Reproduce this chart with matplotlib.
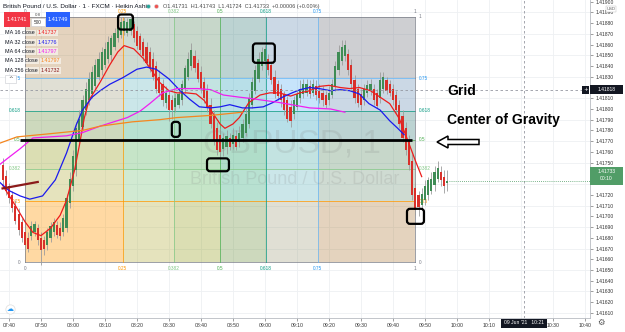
import numpy as np
import matplotlib
matplotlib.use("Agg")
import matplotlib.pyplot as plt
from matplotlib.patches import Rectangle, FancyBboxPatch, FancyArrow

# one Heikin Ashi bar per minute, time given as minutes after 08:00
bar_min = list(range(-22, 118))

ha_open = [
    1.41748, 1.41738, 1.41728, 1.41720, 1.41710, 1.41702, 1.41695, 1.41685, 1.41680, 1.41682,
    1.41685, 1.41689, 1.41680, 1.41678, 1.41673, 1.41680, 1.41685, 1.41692, 1.41689, 1.41685,
    1.41689, 1.41712, 1.41728, 1.41743, 1.41771, 1.41783, 1.41799, 1.41808, 1.41814, 1.41821,
    1.41830, 1.41836, 1.41841, 1.41847, 1.41850, 1.41858, 1.41866, 1.41869, 1.41873, 1.41871,
    1.41873, 1.41879, 1.41873, 1.41868, 1.41862, 1.41858, 1.41853, 1.41847, 1.41840, 1.41830,
    1.41823, 1.41806, 1.41813, 1.41808, 1.41802, 1.41804, 1.41808, 1.41819, 1.41830, 1.41840,
    1.41849, 1.41843, 1.41834, 1.41825, 1.41817, 1.41804, 1.41793, 1.41782, 1.41776, 1.41763,
    1.41765, 1.41773, 1.41767, 1.41775, 1.41769, 1.41773, 1.41778, 1.41786, 1.41804, 1.41817,
    1.41828, 1.41840, 1.41845, 1.41847, 1.41841, 1.41830, 1.41823, 1.41819, 1.41814, 1.41808,
    1.41802, 1.41795, 1.41802, 1.41810, 1.41814, 1.41815, 1.41821, 1.41815, 1.41821, 1.41817,
    1.41815, 1.41813, 1.41808, 1.41813, 1.41821, 1.41836, 1.41845, 1.41849, 1.41851, 1.41841,
    1.41827, 1.41819, 1.41814, 1.41808, 1.41815, 1.41817, 1.41819, 1.41815, 1.41810, 1.41819,
    1.41827, 1.41823, 1.41819, 1.41813, 1.41804, 1.41793, 1.41782, 1.41771, 1.41752, 1.41726,
    1.41720, 1.41711, 1.41715, 1.41720, 1.41724, 1.41729, 1.41735, 1.41741, 1.41737, 1.41731,
]
ha_close = [
    1.41734, 1.41724, 1.41717, 1.41708, 1.41696, 1.41687, 1.41680, 1.41673, 1.41670, 1.41691,
    1.41693, 1.41678, 1.41669, 1.41670, 1.41685, 1.41691, 1.41695, 1.41683, 1.41682, 1.41698,
    1.41717, 1.41735, 1.41756, 1.41782, 1.41791, 1.41808, 1.41819, 1.41828, 1.41834, 1.41841,
    1.41847, 1.41853, 1.41856, 1.41862, 1.41866, 1.41871, 1.41877, 1.41881, 1.41882, 1.41881,
    1.41884, 1.41866, 1.41859, 1.41855, 1.41849, 1.41843, 1.41838, 1.41830, 1.41819, 1.41815,
    1.41808, 1.41815, 1.41799, 1.41799, 1.41810, 1.41814, 1.41823, 1.41838, 1.41847, 1.41855,
    1.41838, 1.41828, 1.41819, 1.41810, 1.41801, 1.41786, 1.41771, 1.41762, 1.41760, 1.41773,
    1.41775, 1.41765, 1.41776, 1.41765, 1.41778, 1.41786, 1.41795, 1.41810, 1.41825, 1.41836,
    1.41847, 1.41853, 1.41856, 1.41836, 1.41827, 1.41814, 1.41812, 1.41808, 1.41799, 1.41791,
    1.41789, 1.41808, 1.41814, 1.41819, 1.41823, 1.41823, 1.41814, 1.41823, 1.41813, 1.41810,
    1.41808, 1.41804, 1.41815, 1.41823, 1.41840, 1.41853, 1.41858, 1.41860, 1.41836, 1.41823,
    1.41810, 1.41806, 1.41804, 1.41819, 1.41822, 1.41823, 1.41808, 1.41803, 1.41827, 1.41830,
    1.41817, 1.41815, 1.41808, 1.41799, 1.41786, 1.41773, 1.41762, 1.41748, 1.41720, 1.41706,
    1.41709, 1.41721, 1.41728, 1.41734, 1.41735, 1.41741, 1.41745, 1.41734, 1.41728, 1.41733,
]
ha_high = [
    1.41754, 1.41743, 1.41731, 1.41724, 1.41715, 1.41708, 1.41698, 1.41691, 1.41685, 1.41696,
    1.41696, 1.41693, 1.41685, 1.41682, 1.41689, 1.41695, 1.41698, 1.41696, 1.41695, 1.41702,
    1.41721, 1.41741, 1.41762, 1.41788, 1.41799, 1.41813, 1.41825, 1.41834, 1.41840, 1.41847,
    1.41853, 1.41858, 1.41862, 1.41868, 1.41869, 1.41875, 1.41882, 1.41886, 1.41886, 1.41885,
    1.41888, 1.41882, 1.41877, 1.41871, 1.41866, 1.41862, 1.41858, 1.41853, 1.41845, 1.41836,
    1.41828, 1.41821, 1.41817, 1.41813, 1.41815, 1.41819, 1.41827, 1.41841, 1.41853, 1.41861,
    1.41855, 1.41847, 1.41840, 1.41830, 1.41823, 1.41810, 1.41799, 1.41788, 1.41782, 1.41778,
    1.41780, 1.41778, 1.41782, 1.41780, 1.41784, 1.41791, 1.41801, 1.41815, 1.41830, 1.41841,
    1.41853, 1.41858, 1.41860, 1.41851, 1.41845, 1.41836, 1.41827, 1.41823, 1.41817, 1.41812,
    1.41808, 1.41812, 1.41817, 1.41827, 1.41828, 1.41828, 1.41827, 1.41828, 1.41827, 1.41823,
    1.41821, 1.41817, 1.41821, 1.41828, 1.41845, 1.41860, 1.41864, 1.41864, 1.41856, 1.41847,
    1.41832, 1.41823, 1.41819, 1.41823, 1.41827, 1.41828, 1.41823, 1.41819, 1.41834, 1.41834,
    1.41830, 1.41827, 1.41823, 1.41817, 1.41808, 1.41799, 1.41788, 1.41776, 1.41758, 1.41732,
    1.41724, 1.41726, 1.41734, 1.41737, 1.41741, 1.41747, 1.41752, 1.41747, 1.41743, 1.41743,
]
ha_low = [
    1.41729, 1.41720, 1.41712, 1.41704, 1.41693, 1.41683, 1.41676, 1.41669, 1.41667, 1.41678,
    1.41682, 1.41673, 1.41655, 1.41664, 1.41669, 1.41676, 1.41682, 1.41680, 1.41678, 1.41682,
    1.41685, 1.41708, 1.41724, 1.41738, 1.41766, 1.41780, 1.41794, 1.41804, 1.41810, 1.41817,
    1.41827, 1.41832, 1.41838, 1.41843, 1.41845, 1.41855, 1.41862, 1.41866, 1.41869, 1.41868,
    1.41869, 1.41862, 1.41856, 1.41851, 1.41845, 1.41840, 1.41834, 1.41827, 1.41815, 1.41812,
    1.41803, 1.41801, 1.41789, 1.41791, 1.41797, 1.41801, 1.41804, 1.41815, 1.41827, 1.41836,
    1.41834, 1.41825, 1.41815, 1.41806, 1.41797, 1.41782, 1.41766, 1.41757, 1.41754, 1.41756,
    1.41758, 1.41762, 1.41763, 1.41762, 1.41765, 1.41769, 1.41775, 1.41782, 1.41801, 1.41814,
    1.41825, 1.41836, 1.41841, 1.41832, 1.41823, 1.41810, 1.41808, 1.41802, 1.41794, 1.41788,
    1.41783, 1.41791, 1.41799, 1.41806, 1.41810, 1.41812, 1.41810, 1.41812, 1.41808, 1.41806,
    1.41803, 1.41801, 1.41804, 1.41810, 1.41817, 1.41832, 1.41841, 1.41845, 1.41832, 1.41819,
    1.41806, 1.41802, 1.41799, 1.41804, 1.41811, 1.41813, 1.41804, 1.41801, 1.41806, 1.41815,
    1.41814, 1.41812, 1.41804, 1.41795, 1.41782, 1.41769, 1.41757, 1.41743, 1.41715, 1.41701,
    1.41700, 1.41706, 1.41711, 1.41715, 1.41721, 1.41724, 1.41732, 1.41728, 1.41722, 1.41724,
]

# moving averages (minute, price)
ma16_t = [-22, -18, -15, -12.5, -10, -7, -4, -2, 0.5, 2, 3.5, 5, 8.5, 11.5, 14, 16, 19, 22, 25, 27,
          30, 32.5, 35.5, 38.5, 41, 43.5, 46, 47.5, 50, 52, 55, 58.5, 61.5, 64.5, 68, 71, 74, 77, 80,
          83.5, 86.5, 89.5, 93, 96, 99, 102, 105, 107, 109]
ma16_p = [1.41729, 1.41710, 1.41695, 1.41685, 1.41682, 1.41689, 1.41701, 1.41715, 1.41743, 1.41766,
          1.41791, 1.41808, 1.41825, 1.41841, 1.41853, 1.41859, 1.41856, 1.41847, 1.41834, 1.41825,
          1.41817, 1.41815, 1.41815, 1.41814, 1.41808, 1.41797, 1.41786, 1.41782, 1.41786, 1.41792,
          1.41806, 1.41813, 1.41815, 1.41815, 1.41812, 1.41815, 1.41817, 1.41821, 1.41822, 1.41820,
          1.41819, 1.41820, 1.41817, 1.41811, 1.41805, 1.41791, 1.41768, 1.41752, 1.41737]
ma32_t = [-23, -20, -16.5, -13.5, -9.5, -5.5, -2, 1, 3, 6, 8.5, 11.5, 15.5, 20, 23, 26, 30, 33.5,
          36.5, 39.5, 43, 46, 49, 53, 56, 59.5, 62.5, 65.5, 68.5, 71, 74, 77, 80.5, 83.5, 86.5, 89.5,
          92.5, 96, 99, 101.5, 103.5]
ma32_p = [1.41732, 1.41724, 1.41719, 1.41716, 1.41719, 1.41734, 1.41759, 1.41785, 1.41799, 1.41811,
          1.41817, 1.41823, 1.41829, 1.41837, 1.41839, 1.41837, 1.41828, 1.41817, 1.41809, 1.41802,
          1.41801, 1.41802, 1.41804, 1.41801, 1.41801, 1.41802, 1.41806, 1.41811, 1.41815, 1.41818,
          1.41820, 1.41819, 1.41817, 1.41818, 1.41817, 1.41814, 1.41805, 1.41799, 1.41789, 1.41782,
          1.41776]
ma64_t = [-23, -20, -16.5, -12.5, -2, 3, 8.5, 17, 21, 24, 28, 32.5, 39, 43, 47, 52, 55, 64.5, 74,
          80.5, 85]
ma64_p = [1.41748, 1.41755, 1.41763, 1.41773, 1.41775, 1.41778, 1.41784, 1.41792, 1.41798, 1.41805,
          1.41815, 1.41819, 1.41819, 1.41818, 1.41813, 1.41811, 1.41810, 1.41806, 1.41801, 1.41800,
          1.41797]
ma128_t = [-23, -17.5, -7, 3, 8.5, 18.5, 27, 32.5, 43, 53]
ma128_p = [1.41768, 1.41774, 1.41777, 1.41780, 1.41784, 1.41788, 1.41790, 1.41792, 1.41794, 1.41797]
ma256_t = [-22, -11]
ma256_p = [1.41726, 1.41732]

# fib grid drawing: time span and price span
fib_t = (-15, 107)
fib_p = (1.41657, 1.41886)
fib_levels = [0, 0.25, 0.382, 0.5, 0.618, 0.75, 1]
fib_labels = ['0', '0.25', '0.382', '0.5', '0.618', '0.75', '1']

# user drawings
cog_t = (-16.5, 106)
cog_price = 1.41771
boxes = [(14.1, 18.75, 1.41874, 1.41888), (30.9, 33.4, 1.41774, 1.41788),
         (41.9, 48.75, 1.41742, 1.41754), (56.25, 63.1, 1.41843, 1.41861),
         (104.4, 109.7, 1.41693, 1.41707)]

time_ticks = list(range(-20, 161, 10))
time_labels = ['07:40', '07:50', '08:00', '08:10', '08:20', '08:30', '08:40', '08:50', '09:00',
               '09:10', '09:20', '09:30', '09:40', '09:50', '10:00', '10:10', '10:20', '10:30', '10:40']
cross_t, cross_p = 141, 1.41818
last_close = 1.41733

ma_names = ['MA 16 close', 'MA 32 close', 'MA 64 close', 'MA 128 close', 'MA 256 close']
ma_values = ['1.41737', '1.41776', '1.41797', '1.41797', '1.41732']

GREEN, RED = '#3f8c55', '#d8302a'
MA_COLORS = ['#ee1c1c', '#1a1aee', '#f01ef0', '#f5861f', '#8b1a1a']
FIB_COLORS = ['#787b86', '#ff9800', '#81c784', '#4caf50', '#089981', '#64b5f6', '#787b86']
FIB_TEXT = ['#787b86', '#ff9800', '#81c784', '#4caf50', '#089981', '#2196f3', '#787b86']
FONT = 'Liberation Sans'

W, H = 625, 332
fig = plt.figure(figsize=(W / 100, H / 100), dpi=100)
fig.patch.set_facecolor('white')
ax = fig.add_axes([0, 14 / H, 590 / W, 318 / H])
ax.set_xlim(-22.8, 161.6)
ax.set_ylim(1.416053, 1.419015)
ax.set_facecolor('white')

# grid
for p in np.round(np.arange(1.41610, 1.41901, 0.0002), 5):
    ax.axhline(p, color='#eef0f3', lw=0.6, zorder=0.5)
for tt in time_ticks:
    ax.axvline(tt, color='#eef0f3', lw=0.6, zorder=0.5)

# fib grid bands and lines
t_at = lambda f: fib_t[0] + f * (fib_t[1] - fib_t[0])
p_at = lambda f: fib_p[0] + f * (fib_p[1] - fib_p[0])
for i in range(1, len(fib_levels)):
    a, b = fib_levels[i - 1], fib_levels[i]
    ax.fill_between([t_at(a), t_at(b)], fib_p[0], fib_p[1], color=FIB_COLORS[i], alpha=0.2, lw=0, zorder=1)
    ax.fill_between(list(fib_t), p_at(a), p_at(b), color=FIB_COLORS[i], alpha=0.2, lw=0, zorder=1)
for f, col, tcol, lab in zip(fib_levels, FIB_COLORS, FIB_TEXT, fib_labels):
    ax.plot([t_at(f)] * 2, fib_p, color=col, lw=0.6, alpha=0.85, zorder=1.2)
    ax.plot(fib_t, [p_at(f)] * 2, color=col, lw=0.6, alpha=0.85, zorder=1.2)
    kw = dict(textcoords='offset points', fontsize=3.4, color=tcol, family=FONT)
    ax.annotate(lab, (t_at(f), fib_p[1]), xytext=(0, 3.5), ha='center', va='center', **kw)
    ax.annotate(lab, (t_at(f), fib_p[0]), xytext=(0, -4.5), ha='center', va='center', **kw)
    ax.annotate(lab, (fib_t[1], p_at(f)), xytext=(2.5, 0), ha='left', va='center', **kw)
    if f < 1:  # the top-left label sits under the sell button
        ax.annotate(lab, (fib_t[0], p_at(f)), xytext=(-3, 0), ha='right', va='center', **kw)

# watermark
ax.text(0.495, 0.546, 'GBPUSD, 1', transform=ax.transAxes, ha='center', va='center',
        fontsize=24, family=FONT, color='#7a7a7a', alpha=0.16, zorder=1.5)
ax.text(0.5, 0.434, 'British Pound / U.S. Dollar', transform=ax.transAxes, ha='center',
        va='center', fontsize=13, family=FONT, color='#7a7a7a', alpha=0.16, zorder=1.5)

# Heikin Ashi candles
t = np.array(bar_min, dtype=float)
o, c = np.array(ha_open), np.array(ha_close)
hi, lo = np.array(ha_high), np.array(ha_low)
cols = np.where(c >= o, GREEN, RED)
ax.vlines(t, lo, hi, color='#9c9c9c', lw=0.6, zorder=3)
ax.bar(t, np.maximum(np.abs(c - o), 0.00001), bottom=np.minimum(o, c), width=0.66,
       color=cols, lw=0, zorder=3.5)

# moving averages
for (mt, mp), col in zip([(ma16_t, ma16_p), (ma32_t, ma32_p), (ma64_t, ma64_p),
                          (ma128_t, ma128_p)], MA_COLORS[:4]):
    ax.plot(mt, mp, color=col, lw=0.9, zorder=4)
ax.plot(ma256_t, ma256_p, color=MA_COLORS[4], lw=1.6, zorder=4)

# center of gravity line
ax.plot(cog_t, [cog_price] * 2, color='black', lw=2.0, zorder=5, solid_capstyle='butt')

# crosshair and last price line
ax.axvline(cross_t, color='#9598a1', lw=0.6, ls=(0, (3, 3)), zorder=6)
ax.axhline(cross_p, color='#9598a1', lw=0.6, ls=(0, (3, 3)), zorder=6)
ax.plot([117.6, 161.6], [last_close] * 2, color='#4f9c64', lw=0.6, ls=(0, (1, 1.5)), zorder=6)

# axes styling; labels hidden under the badges are left blank
ax.yaxis.tick_right()
price_ticks = np.round(np.arange(1.41610, 1.41901, 0.0001), 5)
covered = {1.41820, 1.41730, 1.41740}
ax.set_yticks(price_ticks)
ax.set_yticklabels(['' if p in covered else f'{p:.5f}' for p in price_ticks], family=FONT)
ax.set_xticks(time_ticks)
ax.set_xticklabels(['' if lab == '10:20' else lab for lab in time_labels], family=FONT)
ax.tick_params(axis='y', length=2, width=0.4, pad=2, labelsize=3.6, colors='#555', labelcolor='#333')
ax.tick_params(axis='x', length=2, width=0.4, pad=1.5, labelsize=3.7, colors='#555', labelcolor='#333')
for s in ['top', 'left']:
    ax.spines[s].set_visible(False)
for s in ['right', 'bottom']:
    ax.spines[s].set_color('#b8bbc2')
    ax.spines[s].set_linewidth(0.6)

# overlay in figure pixels for chart chrome and drawings
ov = fig.add_axes([0, 0, 1, 1], zorder=10)
ov.set_xlim(0, W)
ov.set_ylim(0, H)
ov.axis('off')
Y = lambda y: H - y


def px(tm, pr):
    return ax.transData.transform((tm, pr))


for t0, t1, p0, p1 in boxes:
    x0, y0 = px(t0, p0)
    x1, y1 = px(t1, p1)
    ov.add_patch(FancyBboxPatch((x0, y0), x1 - x0, y1 - y0, boxstyle='round,pad=0,rounding_size=3',
                                fc='none', ec='black', lw=1.6))

ov.add_patch(FancyArrow(479, Y(142), -42, 0, width=5, head_width=12, head_length=11,
                        length_includes_head=True, fc='white', ec='black', lw=1.1))
ov.text(447, Y(91), 'Grid', fontsize=10, fontweight='bold', family=FONT, va='center')
ov.text(447, Y(120), 'Center of Gravity', fontsize=10, fontweight='bold', family=FONT, va='center')

# header
ov.text(3, Y(7), 'British Pound / U.S. Dollar \u00b7 1 \u00b7 FXCM \u00b7 Heikin Ashi', fontsize=4.6,
        family=FONT, color='#131722', va='center')
ov.scatter([148], [Y(6)], s=8, c='#26a69a', edgecolors='#cfd3da', linewidths=0.3)
ov.scatter([156], [Y(6)], s=8, c='#ef5350', edgecolors='#cfd3da', linewidths=0.3)
ov.text(163, Y(6.5), 'O1.41731  H1.41743  L1.41724  C1.41733  +0.00006 (+0.00%)', fontsize=4.0,
        family=FONT, color='#4a4a4a', va='center')

# sell / buy buttons
ov.add_patch(Rectangle((4, Y(27)), 26, 15, fc='#f23645', ec='none'))
ov.text(17, Y(19.5), '1.41741', fontsize=4, color='white', ha='center', va='center', family=FONT)
ov.text(38, Y(14.5), '0.8', fontsize=3.2, color='#555', ha='center', va='center', family=FONT)
ov.add_patch(Rectangle((31, Y(26)), 14, 8, fc='white', ec='#c8cad0', lw=0.4))
ov.text(38, Y(22), '500', fontsize=3.4, color='#333', ha='center', va='center', family=FONT)
ov.add_patch(Rectangle((46, Y(27)), 24, 15, fc='#2962ff', ec='none'))
ov.text(58, Y(19.5), '1.41749', fontsize=4, color='white', ha='center', va='center', family=FONT)

# indicator legend, value placed right after its name
renderer = fig.canvas.get_renderer()
for k, (name, val, col) in enumerate(zip(ma_names, ma_values, MA_COLORS)):
    yy = Y(33 + 9.3 * k)
    nt = ov.text(5, yy, name, fontsize=3.9, family=FONT, color='#131722', va='center',
                 bbox=dict(fc='white', ec='none', alpha=0.55, pad=0.6))
    x_end = nt.get_window_extent(renderer).x1
    ov.text(x_end + 3, yy, val, fontsize=3.9, family=FONT, color=col, va='center',
            bbox=dict(fc='white', ec='none', alpha=0.55, pad=0.6))
ov.add_patch(Rectangle((5, Y(83)), 11, 8, fc='white', ec='#c8cad0', lw=0.4))
ov.text(10.5, Y(78), '^', fontsize=4, ha='center', va='center', color='#333')

# price axis badges
cx, cy = px(cross_t, cross_p)
ov.add_patch(Rectangle((590, cy - 4.5), 33, 9, fc='#131722', ec='none'))
ov.text(606.5, cy, f'{cross_p:.5f}', fontsize=3.6, color='white', ha='center', va='center', family=FONT)
ov.add_patch(Rectangle((582, cy - 4), 7, 8, fc='#131722', ec='none'))
ov.text(585.5, cy, '+', fontsize=4, color='white', ha='center', va='center')
_, ly = px(117, last_close)
ov.add_patch(Rectangle((590, ly - 4), 33, 18, fc='#519d67', ec='none'))
ov.text(606.5, ly + 9.5, f'{last_close:.5f}', fontsize=3.6, color='white', ha='center', va='center', family=FONT)
ov.text(606.5, ly + 2, '00:10', fontsize=3.6, color='white', ha='center', va='center', family=FONT)
ov.add_patch(Rectangle((cx - 23, Y(327.5)), 46, 9, fc='#131722', ec='none'))
ov.text(cx, Y(323), "09 Jun '21   10:21", fontsize=3.6, color='white', ha='center', va='center', family=FONT)
ov.text(611, Y(9), 'USD', fontsize=3, color='#555', ha='center', va='center', family=FONT,
        bbox=dict(fc='white', ec='#bbbbbb', lw=0.3, pad=0.6))

# small icons
ov.scatter([10], [Y(309)], s=45, c='white', edgecolors='#dddddd', linewidths=0.5)
ov.text(10, Y(309), '\u2601', fontsize=5, color='#2196f3', ha='center', va='center', family='DejaVu Sans')
ov.text(601, Y(322), '\u2699', fontsize=6, color='#555', ha='center', va='center', family='DejaVu Sans')

fig.savefig('out.png', dpi=100)
